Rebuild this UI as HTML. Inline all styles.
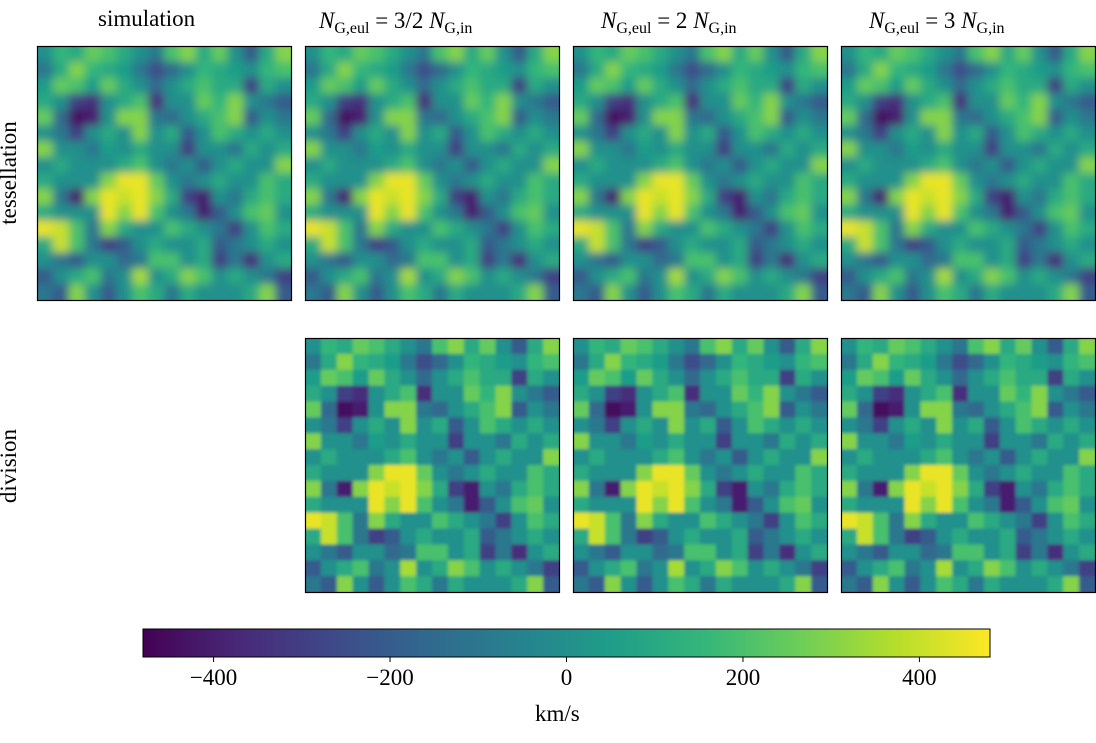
<!DOCTYPE html>
<html><head><meta charset="utf-8"><style>
body{margin:0;background:#fff;width:1096px;height:743px;overflow:hidden;font-family:"Liberation Serif","DejaVu Serif",serif;}
#root{position:relative;width:1096px;height:743px;}
.t{position:absolute;font-size:23px;color:#000;white-space:nowrap;}
sub{font-size:16px;vertical-align:-5px;font-style:normal;}
i{font-style:italic;}
</style></head><body><div id="root">
<svg id="svg" width="1096" height="743" style="position:absolute;left:0;top:0"></svg>
<div class="t" style="left:98px;top:6px">simulation</div>
<div class="t" style="left:319px;top:8px"><i>N</i><sub>G,eul</sub> = 3/2 <i>N</i><sub>G,in</sub></div>
<div class="t" style="left:601px;top:8px"><i>N</i><sub>G,eul</sub> = 2 <i>N</i><sub>G,in</sub></div>
<div class="t" style="left:869px;top:8px"><i>N</i><sub>G,eul</sub> = 3 <i>N</i><sub>G,in</sub></div>
<div class="t" style="left:-56px;top:160px;transform:rotate(-90deg);width:130px;text-align:center">tessellation</div>
<div class="t" style="left:-56px;top:453px;transform:rotate(-90deg);width:130px;text-align:center">division</div>
<div class="t" style="left:535px;top:701px">km/s</div>
</div>
<script>
const grid=[
[0,150,100,250,200,100,0,-100,200,300,100,250,0,-200,100,300],
[-100,100,300,150,100,50,-100,-250,-150,0,150,100,50,0,150,200],
[50,250,200,50,250,100,0,-150,0,100,200,100,100,-300,100,0],
[100,0,-300,-350,0,100,200,-350,0,0,250,150,300,0,-100,-200],
[250,-150,-450,-400,0,300,300,-100,-150,0,100,200,300,-200,0,-100],
[0,-100,-300,0,100,0,300,0,100,-200,0,200,100,0,100,0],
[300,0,0,-100,50,0,100,0,0,-300,0,0,-100,100,0,100],
[0,100,0,0,0,100,200,0,-100,0,-200,0,100,0,0,300],
[100,0,0,0,300,450,450,250,0,-100,0,100,0,0,200,100],
[300,-100,-400,300,450,400,450,300,100,-300,-400,0,-100,100,200,100],
[100,0,0,0,450,300,450,200,0,-100,-400,-200,0,200,250,0],
[450,400,200,-100,300,100,0,0,200,100,0,-100,-300,0,200,100],
[100,400,200,-100,-300,-200,0,100,0,0,100,-200,-100,0,100,0],
[0,-100,-200,0,0,-150,-100,200,200,0,100,-300,-100,-350,0,100],
[-200,0,100,200,-100,0,350,0,100,300,200,0,100,0,-100,-300],
[-100,-200,300,0,-200,0,200,100,-100,100,0,0,0,100,300,-200]];
const cbTicks=[-400,-200,0,200,400];
const vmin=-480,vmax=480;
const vir=["#440154","#482878","#3e4989","#31688e","#26828e","#1f9e89","#35b779","#6ece58","#b5de2b","#fde725"];
function hex(h){return [1,3,5].map(i=>parseInt(h.substr(i,2),16));}
function color(v){let t=Math.max(0,Math.min(1,(v-vmin)/(vmax-vmin)))*(vir.length-1);let i=Math.min(vir.length-2,Math.floor(t)),f=t-i;
const a=hex(vir[i]),b=hex(vir[i+1]);return "rgb("+a.map((x,k)=>Math.round(x+(b[k]-x)*f)).join(",")+")";}
const NS="http://www.w3.org/2000/svg";const svg=document.getElementById('svg');
function mk(tag,at,parent){const e=document.createElementNS(NS,tag);for(const k in at)e.setAttribute(k,at[k]);(parent||svg).appendChild(e);return e;}
const defs=mk('defs',{});
const f=mk('filter',{id:'blur',x:'-0.2',y:'-0.2',width:'1.4',height:'1.4'},defs);
mk('feGaussianBlur',{stdDeviation:'4.5'},f);
const f2=mk('filter',{id:'blur2',x:'-0.2',y:'-0.2',width:'1.4',height:'1.4'},defs);
mk('feGaussianBlur',{stdDeviation:'1.5'},f2);
const cols=[37,305,573,841],rows=[46,338],S=254;
const panels=[[0,0,'blur'],[1,0,'blur'],[2,0,'blur'],[3,0,'blur'],[1,1,'blur2'],[2,1,'blur2'],[3,1,'blur2']];
panels.forEach(([c,r,fl],pi)=>{
 const x0=cols[c],y0=rows[r];
 const cp=mk('clipPath',{id:'cp'+pi},defs);mk('rect',{x:x0,y:y0,width:S,height:S},cp);
 const g=mk('g',{'clip-path':'url(#cp'+pi+')'});
 
 
 const gi=mk('g',{filter:'url(#'+fl+')'},g);
 const n=grid.length,cs=S/n;
 for(let i=-2;i<n+2;i++)for(let j=-2;j<n+2;j++){
  const v=grid[Math.max(0,Math.min(n-1,i))][Math.max(0,Math.min(n-1,j))];
  const e=mk('rect',{x:x0+j*cs,y:y0+i*cs,width:cs+0.6,height:cs+0.6,fill:color(v)},gi);
  
  
 }
 const b=mk('rect',{x:x0+0.5,y:y0+0.5,width:S,height:S,fill:'none',stroke:'#000','stroke-width':1.2});
 
 
});
const cbx=143,cby=629,cbw=847,cbh=28;
const lg=mk('linearGradient',{id:'vg'},defs);
vir.forEach((c,i)=>mk('stop',{offset:(i/(vir.length-1)),'stop-color':c},lg));
const cb=mk('rect',{x:cbx,y:cby,width:cbw,height:cbh,fill:'url(#vg)',stroke:'#000','stroke-width':1});


const xs=v=>cbx+(v-vmin)/(vmax-vmin)*cbw;
cbTicks.forEach(v=>{
 const l=mk('line',{x1:xs(v),x2:xs(v),y1:cby+cbh,y2:cby+cbh+5,stroke:'#000'});
 
 
 const t=mk('text',{x:xs(v),y:685,'text-anchor':'middle','font-size':23,'font-family':'Liberation Serif, DejaVu Serif, serif'});
 t.textContent=(v<0?'\u2212':'')+Math.abs(v);
 
 
});
</script></body></html>
